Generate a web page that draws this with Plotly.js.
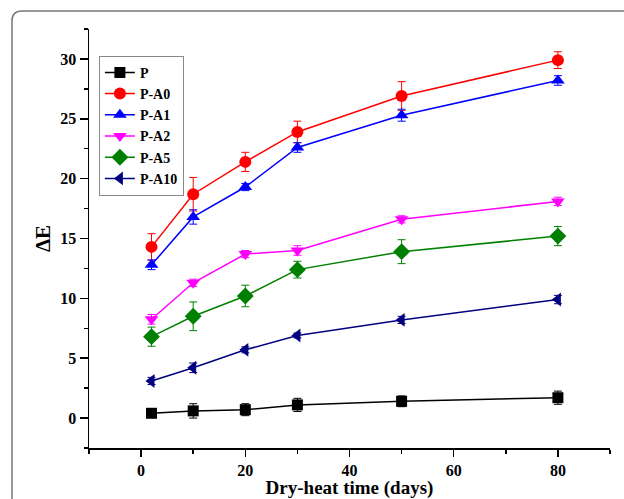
<!DOCTYPE html>
<html>
<head>
<meta charset="utf-8">
<script src="https://cdn.plot.ly/plotly-3.0.1.min.js"></script>
<style>html,body{margin:0;padding:0;background:#fff;}#chart{width:624px;height:499px;}</style>
</head>
<body>
<div id="chart"></div>
<script>
// Data
const days = [2, 10, 20, 30, 50, 80];
const seriesNames = ["P", "P-A0", "P-A1", "P-A2", "P-A5", "P-A10"];
const P      = [0.4, 0.6, 0.7, 1.1, 1.4, 1.7];
const P_err  = [0.3, 0.6, 0.5, 0.55, 0.45, 0.55];
const PA0     = [14.3, 18.7, 21.4, 23.9, 26.9, 29.9];
const PA0_err = [1.1, 1.4, 0.8, 0.9, 1.2, 0.7];
const PA1     = [12.8, 16.8, 19.3, 22.6, 25.3, 28.2];
const PA1_err = [0.4, 0.6, 0.3, 0.4, 0.5, 0.4];
const PA2     = [8.25, 11.3, 13.7, 14.0, 16.6, 18.1];
const PA2_err = [0.4, 0.3, 0.3, 0.4, 0.3, 0.35];
const PA5     = [6.8, 8.5, 10.2, 12.4, 13.9, 15.2];
const PA5_err = [0.8, 1.2, 0.9, 0.7, 1.0, 0.8];
const PA10     = [3.1, 4.2, 5.7, 6.9, 8.2, 9.9];
const PA10_err = [0.3, 0.4, 0.25, 0.2, 0.3, 0.35];

const yValues = [P, PA0, PA1, PA2, PA5, PA10];
const yErrors = [P_err, PA0_err, PA1_err, PA2_err, PA5_err, PA10_err];
const colors = ["#000000", "#ff0000", "#0000ff", "#ff00ff", "#008000", "#000080"];
const symbols = ["square", "circle", "triangle-up", "triangle-down", "diamond", "triangle-left"];
const sizes = [11, 12, 12, 12, 13, 12];

const FONT = '"Liberation Serif", "Times New Roman", Times, serif';

const traces = seriesNames.map((name, i) => ({
  type: "scatter",
  mode: "lines+markers",
  name: name,
  x: days,
  y: yValues[i],
  error_y: {type: "data", array: yErrors[i], visible: true, color: colors[i], thickness: 1, width: 4},
  line: {color: colors[i], width: 1.5},
  marker: {color: colors[i], symbol: symbols[i], size: sizes[i]}
}));

const layout = {
  width: 624, height: 499,
  margin: {l: 89, r: 14, t: 29, b: 51},
  paper_bgcolor: "#ffffff",
  plot_bgcolor: "#ffffff",
  font: {family: FONT, color: "#000", size: 15},
  showlegend: true,
  legend: {
    x: 0.019, y: 0.936, xanchor: "left", yanchor: "top",
    bgcolor: "#ffffff", bordercolor: "#888888", borderwidth: 1,
    font: {family: FONT, size: 14, weight: 700, color: "#000"},
    itemwidth: 30, tracegroupgap: 0
  },
  xaxis: {
    range: [-10, 90],
    tick0: 0, dtick: 20,
    ticks: "outside", ticklen: 7, tickwidth: 1.5, tickcolor: "#000",
    minor: {dtick: 10, tick0: 0, ticks: "outside", ticklen: 4, tickwidth: 1.5, tickcolor: "#000"},
    showline: true, linecolor: "#000", linewidth: 1.5,
    showgrid: false, zeroline: false,
    tickfont: {family: FONT, size: 16, weight: 700},
    title: {text: "Dry-heat time (days)", font: {family: FONT, size: 19, weight: 700}, standoff: 5}
  },
  yaxis: {
    range: [-2.5, 32.5],
    tick0: 0, dtick: 5,
    ticks: "outside", ticklen: 8, tickwidth: 1.5, tickcolor: "#000",
    minor: {dtick: 2.5, tick0: 0, ticks: "outside", ticklen: 4, tickwidth: 1.5, tickcolor: "#000"},
    showline: true, linecolor: "#000", linewidth: 1.5,
    showgrid: false, zeroline: false,
    tickfont: {family: FONT, size: 16, weight: 700},
    title: {text: "ΔE", font: {family: FONT, size: 21, weight: 700}, standoff: 4}
  },
  shapes: [{
    type: "path", xref: "paper", yref: "paper",
    path: "M -0.1478 -0.15 L -0.1478 1.0191 Q -0.1478 1.0430 -0.1286 1.0430 L 1.05 1.0430",
    line: {color: "#777777", width: 1.5}
  }]
};

Plotly.newPlot("chart", traces, layout, {staticPlot: true, displayModeBar: false});
</script>
</body>
</html>
